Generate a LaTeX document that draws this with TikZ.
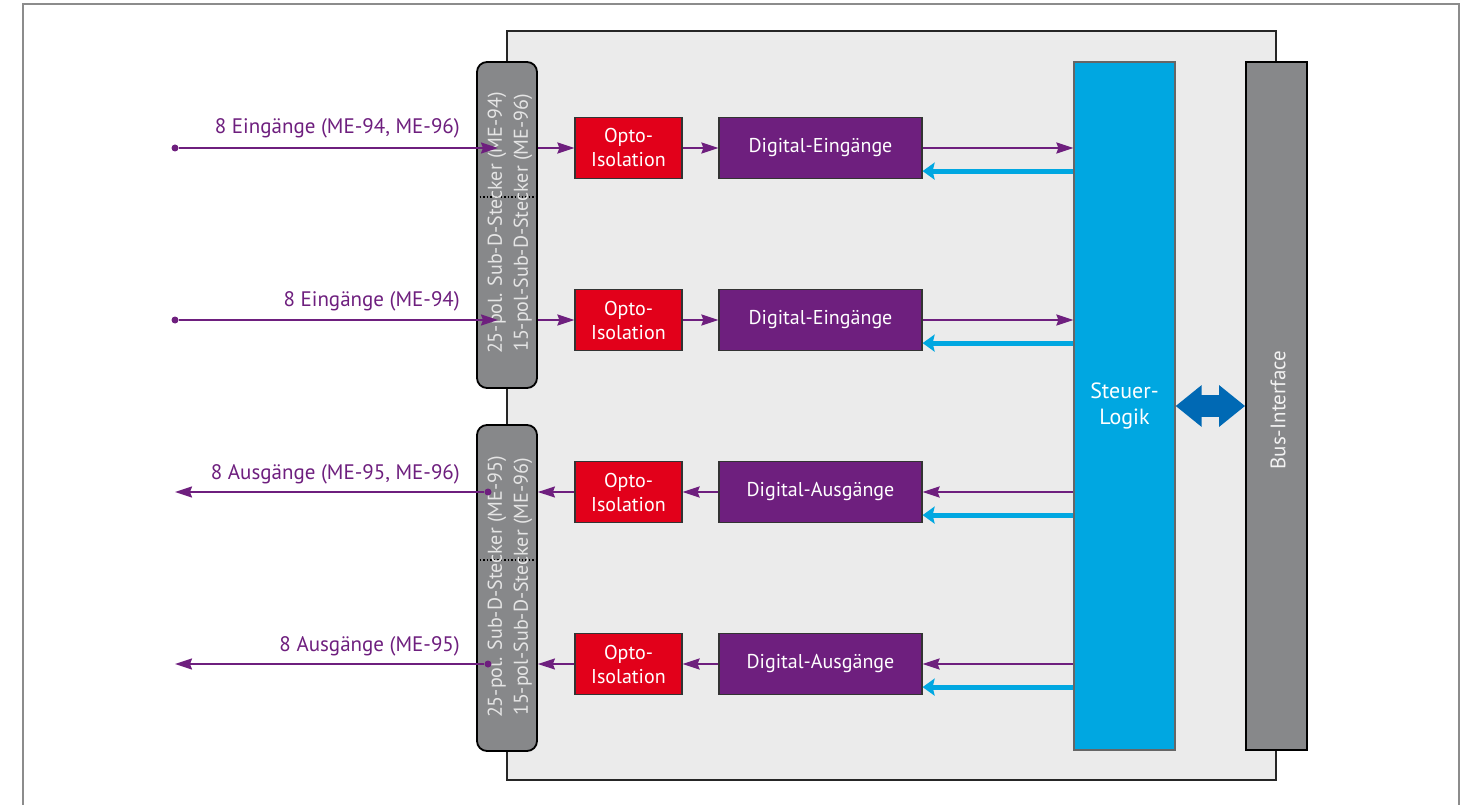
\documentclass[tikz,border=0pt]{standalone}
\usepackage{fontspec}
\setmainfont{PT Sans}
\usetikzlibrary{arrows.meta}
\definecolor{lila}{RGB}{110,31,126}
\definecolor{optorot}{RGB}{226,0,26}
\definecolor{logikblau}{RGB}{0,167,225}
\definecolor{busblau}{RGB}{0,105,180}
\definecolor{steckergrau}{RGB}{135,136,138}
\definecolor{platine}{RGB}{235,235,235}
\tikzset{
  blk/.style={draw=black!80, line width=1.2pt, minimum height=61pt,
    inner sep=0pt, text=white, align=center,
    font=\fontsize{20}{24}\selectfont},
  opto/.style={blk, fill=optorot, minimum width=107pt},
  digi/.style={blk, fill=lila, minimum width=203pt},
  stecker/.style={draw=black, line width=1.8pt, fill=steckergrau,
    rounded corners=10pt, minimum width=60pt, minimum height=326pt,
    inner sep=0pt},
  steckertxt/.style={rotate=90, text=black!10, align=center, inner sep=0pt,
    font=\fontsize{20}{26}\selectfont},
  sig/.style={draw=lila, line width=2pt,
    -{Stealth[length=17pt, width=11pt, inset=2pt]}},
  rueck/.style={draw=logikblau, line width=5pt,
    -{Stealth[length=12pt, width=17pt, inset=2pt]}},
  lbl/.style={text=lila, inner sep=0pt, anchor=base east,
    font=\fontsize{21}{25}\selectfont},
  punkt/.style={circle, fill=lila, inner sep=0pt, minimum size=7pt}
}
\begin{document}
\begin{tikzpicture}[x=1pt, y=-1pt]
  \useasboundingbox (0,0) rectangle (1468,805);
  % outer frame
  \draw[black!45, line width=2pt] (23,805) -- (23,4) -- (1459,4) -- (1459,805);
  % board and connectors
  \node[draw=black!85, line width=1.5pt, fill=platine, inner sep=0pt,
    minimum width=769pt, minimum height=749pt] (board) at (891.5,405.5) {};
  \node[stecker] (st1) at (507,225) {};
  \node[stecker] (st2) at (507,588) {};
  \draw[dotted, line width=1.5pt] ([yshift=-136pt]st1.north west) -- ([yshift=-136pt]st1.north east);
  \draw[dotted, line width=1.5pt] ([yshift=-136pt]st2.north west) -- ([yshift=-136pt]st2.north east);
  \node[steckertxt] (st1txt) at (510,223) {25-pol. Sub-D-Stecker (ME-94)\\15-pol-Sub-D-Stecker (ME-96)};
  \node[steckertxt] (st2txt) at (510,587) {25-pol. Sub-D-Stecker (ME-95)\\15-pol-Sub-D-Stecker (ME-96)};
  % logic and bus
  \node[fill=logikblau, draw=black!60, line width=1.2pt, minimum width=101pt,
    minimum height=688pt, text=white, align=center,
    font=\fontsize{22}{26}\selectfont] (logik) at (1124.5,406) {Steuer-\\Logik};
  \node[fill=steckergrau, draw=black, line width=1.8pt, minimum width=61pt,
    minimum height=688pt] (bus) at (1276.5,406) {};
  \node[rotate=90, text=black!5, font=\fontsize{21}{25}\selectfont] (bustxt) at (1278,410) {Bus-Interface};
  \draw[busblau, line width=22pt, {Triangle[length=26pt, width=40pt]}-{Triangle[length=26pt, width=40pt]}] (logik) -- (bus);
  % function blocks
  \node[opto] (o1) at (628.5,148) {Opto-\\Isolation};
  \node[opto] (o2) at (628.5,320) {Opto-\\Isolation};
  \node[opto] (o3) at (628.5,492) {Opto-\\Isolation};
  \node[opto] (o4) at (628.5,664) {Opto-\\Isolation};
  \node[digi] (d1) at (820.5,148) {Digital-Eingänge};
  \node[digi] (d2) at (820.5,320) {Digital-Eingänge};
  \node[digi] (d3) at (820.5,492) {Digital-Ausgänge};
  \node[digi] (d4) at (820.5,664) {Digital-Ausgänge};
  % pins
  \node[punkt] (e1) at (175,148) {};
  \node[punkt] (e2) at (175,320) {};
  \coordinate (p1) at (498,148);
  \coordinate (p2) at (498,320);
  \node[punkt] (a1) at (488,492) {};
  \node[punkt] (a2) at (488,664) {};
  \coordinate (q1) at (175,492);
  \coordinate (q2) at (175,664);
  \node[lbl] (l1) at (460,134) {8 Eingänge (ME-94, ME-96)};
  \node[lbl] (l2) at (460,306) {8 Eingänge (ME-94)};
  \node[lbl] (l3) at (460,479) {8 Ausgänge (ME-95, ME-96)};
  \node[lbl] (l4) at (460,651) {8 Ausgänge (ME-95)};
  % inputs
  \draw[sig] (e1) -- (p1);
  \draw[sig] (e2) -- (p2);
  \draw[sig] (o1.west -| st1.east) -- (o1);
  \draw[sig] (o2.west -| st1.east) -- (o2);
  \draw[sig] (o1) -- (d1);
  \draw[sig] (o2) -- (d2);
  \draw[sig] (d1.east) -- (d1.east -| logik.west);
  \draw[sig] (d2.east) -- (d2.east -| logik.west);
  % outputs
  \draw[sig] (d3.east -| logik.west) -- (d3.east);
  \draw[sig] (d4.east -| logik.west) -- (d4.east);
  \draw[sig] (d3) -- (o3);
  \draw[sig] (d4) -- (o4);
  \draw[sig] (o3) -- (o3.west -| st2.east);
  \draw[sig] (o4) -- (o4.west -| st2.east);
  \draw[sig] (a1) -- (q1);
  \draw[sig] (a2) -- (q2);
  % feedback lines
  \coordinate (r1) at ([yshift=8pt]d1.south east);
  \coordinate (r2) at ([yshift=8pt]d2.south east);
  \coordinate (r3) at ([yshift=8pt]d3.south east);
  \coordinate (r4) at ([yshift=8pt]d4.south east);
  \draw[rueck] (r1 -| logik.west) -- (r1);
  \draw[rueck] (r2 -| logik.west) -- (r2);
  \draw[rueck] (r3 -| logik.west) -- (r3);
  \draw[rueck] (r4 -| logik.west) -- (r4);
\end{tikzpicture}
\end{document}
